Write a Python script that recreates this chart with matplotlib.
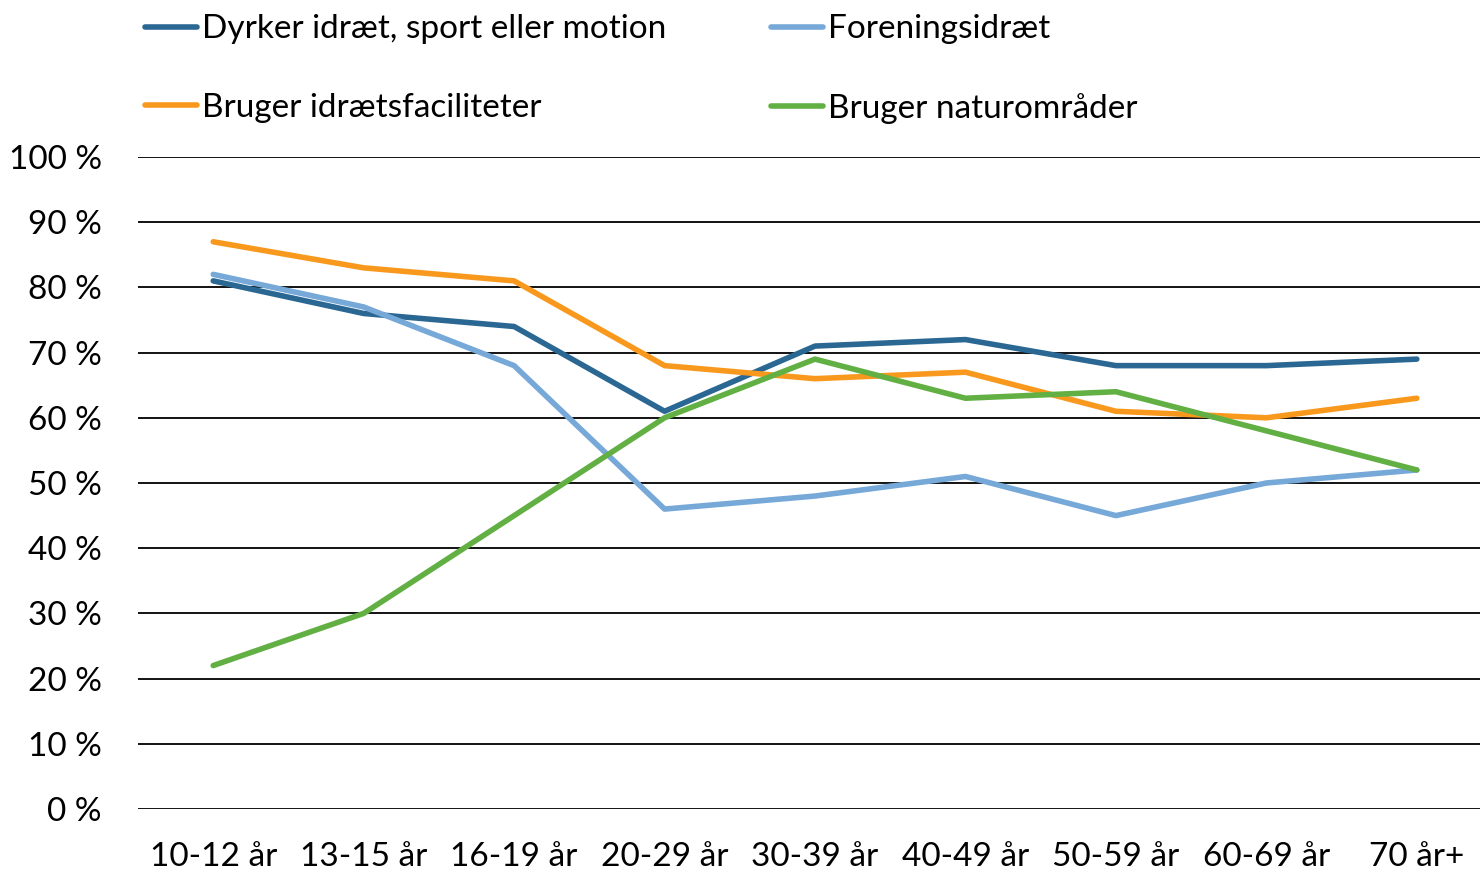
import matplotlib
matplotlib.use("Agg")
import matplotlib.pyplot as plt
from matplotlib.ticker import FuncFormatter

plt.rcParams['font.family'] = ['Lato', 'DejaVu Sans']

aldersgrupper = ["10-12 år", "13-15 år", "16-19 år", "20-29 år", "30-39 år",
                 "40-49 år", "50-59 år", "60-69 år", "70 år+"]

dyrker = [81, 76, 74, 61, 71, 72, 68, 68, 69]
forening = [82, 77, 68, 46, 48, 51, 45, 50, 52]
faciliteter = [87, 83, 81, 68, 66, 67, 61, 60, 63]
natur = [22, 30, 45, 60, 69, 63, 64, 58, 52]

serier = [
    ("Dyrker idræt, sport eller motion", dyrker, "#2a6792"),
    ("Foreningsidræt", forening, "#76a8d8"),
    ("Bruger idrætsfaciliteter", faciliteter, "#f8981d"),
    ("Bruger naturområder", natur, "#62b043"),
]

fig = plt.figure(figsize=(14.8, 8.73), dpi=100)
ax = fig.add_axes([138 / 1480, 1 - 809 / 873, 1 - 138 / 1480, (809 - 157) / 873])

x = list(range(len(aldersgrupper)))
linjer = []
for navn, vaerdier, farve in serier:
    l, = ax.plot(x, vaerdier, color=farve, lw=4, label=navn,
                 solid_capstyle="round", solid_joinstyle="round")
    linjer.append(l)

ax.set_ylim(0, 100)
ax.set_xlim(-0.5, 8.42)
ax.set_yticks(range(0, 101, 10))
ax.yaxis.set_major_formatter(FuncFormatter(lambda v, p: f"{int(v)} %"))
ax.set_xticks(x)
ax.set_xticklabels(aldersgrupper)
ax.grid(axis="y", color="black", lw=1.3)
ax.set_axisbelow(True)
for s in ax.spines.values():
    s.set_visible(False)
ax.tick_params(length=0, labelsize=24, colors="black")
ax.tick_params(axis="y", pad=26)
ax.tick_params(axis="x", pad=24)

# legend fills column-wise, so order handles to get rows like the reference
orden = [0, 2, 1, 3]
fig.legend([linjer[i] for i in orden], [serier[i][0] for i in orden],
           loc="upper left", bbox_to_anchor=(127 / 1480, 1 + 4 / 873), ncol=2,
           frameon=False, fontsize=24, handlelength=1.55, handletextpad=0.15,
           columnspacing=3.15, labelspacing=1.45, borderaxespad=0.15)

fig.savefig("out.png", dpi=100)
